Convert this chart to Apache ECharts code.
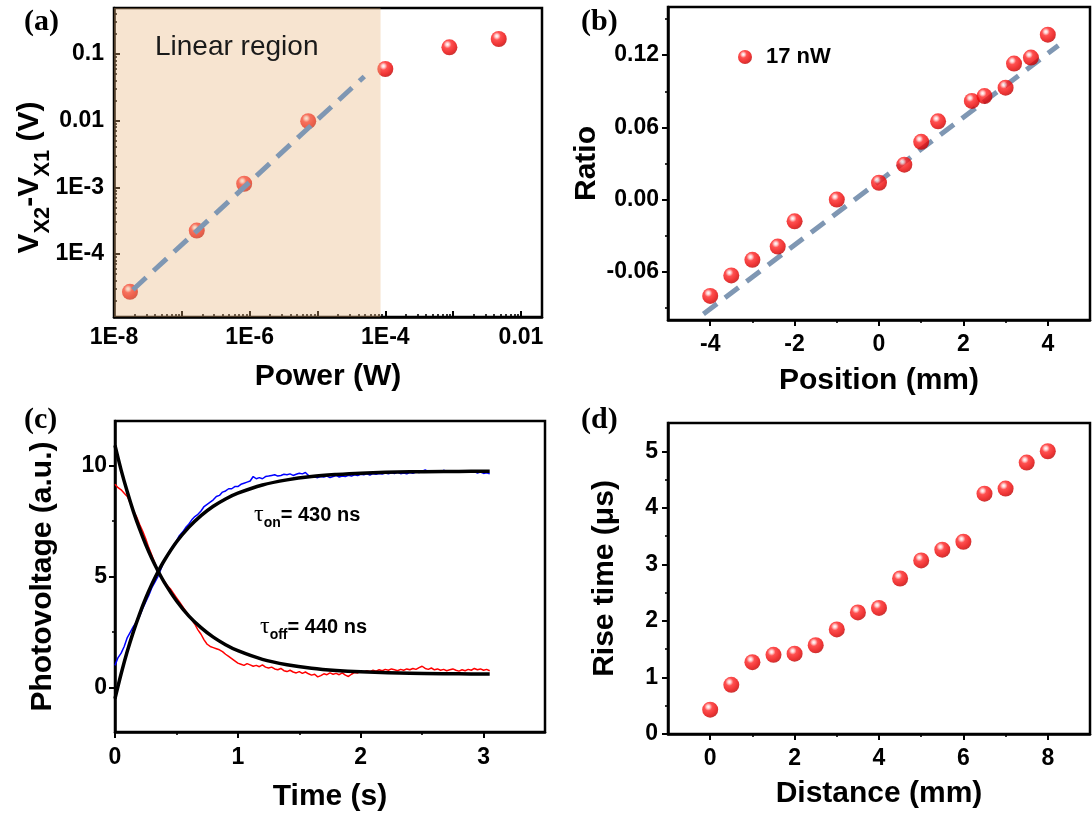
<!DOCTYPE html>
<html><head><meta charset="utf-8">
<script src="https://cdn.jsdelivr.net/npm/echarts@6/dist/echarts.min.js"></script>
<style>html,body{margin:0;padding:0;background:#fff}#c{width:1092px;height:814px}</style>
</head><body><div id="c"></div>
<script>
// ---------- Panel (a) ----------
const aPower   = [1.72e-8, 1.66e-7, 8.3e-7, 7.3e-6, 1.0e-4, 8.8e-4, 4.7e-3];
const aVoltage = [2.7e-5, 2.24e-4, 1.13e-3, 0.0098, 0.0596, 0.126, 0.168];
const aFitX = [1.9e-8, 4.9e-5];
const aFitY = [2.9e-5, 0.046];
const aLinearRegion = [1e-8, 8.5e-5];
const aXRange = [1e-8, 0.0204];
const aYRange = [1.13e-5, 0.49];
const aXMajorTicks = [1e-8, 1e-7, 1e-6, 1e-5, 1e-4, 1e-3, 1e-2];
const aXTickValues = [1e-8, 1e-6, 1e-4, 1e-2];
const aXTickLabels = ['1E-8', '1E-6', '1E-4', '0.01'];
const aYTickValues = [1e-4, 1e-3, 1e-2, 1e-1];
const aYTickLabels = ['1E-4', '1E-3', '0.01', '0.1'];

// ---------- Panel (b) ----------
const bPosition = [-4, -3.5, -3, -2.4, -2, -1, 0, 0.6, 1, 1.4, 2.2, 2.5, 3, 3.2, 3.6, 4];
const bRatio = [-0.080, -0.063, -0.050, -0.039, -0.018, 0.000, 0.014, 0.029, 0.048, 0.065, 0.082, 0.086, 0.093, 0.113, 0.118, 0.137];
const bFitX = [-4.16, 4.25];
const bFitY = [-0.095, 0.128];
const bXRange = [-5, 5];
const bYRange = [-0.10, 0.16];
const bXTickValues = [-4, -2, 0, 2, 4];
const bXMinorTicks = [-3, -1, 1, 3];
const bYTickValues = [-0.06, 0, 0.06, 0.12];
const bYTickLabels = ['-0.06', '0.00', '0.06', '0.12'];
const bYMinorTicks = [-0.09, -0.03, 0.03, 0.09, 0.15];

// ---------- Panel (c) ----------
const cTime = [0.000,0.025,0.050,0.075,0.100,0.125,0.150,0.175,0.200,0.225,0.250,0.275,0.300,0.325,0.350,0.375,0.400,0.425,0.450,0.475,
0.500,0.525,0.550,0.575,0.600,0.625,0.650,0.675,0.700,0.725,0.750,0.775,0.800,0.825,0.850,0.875,0.900,0.925,0.950,0.975,
1.000,1.025,1.050,1.075,1.100,1.125,1.150,1.175,1.200,1.225,1.250,1.275,1.300,1.325,1.350,1.375,1.400,1.425,1.450,1.475,
1.500,1.525,1.550,1.575,1.600,1.625,1.650,1.675,1.700,1.725,1.750,1.775,1.800,1.825,1.850,1.875,1.900,1.925,1.950,1.975,
2.000,2.025,2.050,2.075,2.100,2.125,2.150,2.175,2.200,2.225,2.250,2.275,2.300,2.325,2.350,2.375,2.400,2.425,2.450,2.475,
2.500,2.525,2.550,2.575,2.600,2.625,2.650,2.675,2.700,2.725,2.750,2.775,2.800,2.825,2.850,2.875,2.900,2.925,2.950,2.975,
3.000,3.025,3.050];
const cOn = [1.00,1.35,1.55,1.85,2.25,2.50,2.75,2.95,3.20,3.55,3.85,4.15,4.50,4.75,5.00,5.35,5.70,5.95,6.20,6.40,
6.60,6.85,7.00,7.20,7.35,7.55,7.70,7.80,7.95,8.15,8.25,8.35,8.45,8.60,8.65,8.80,8.85,8.95,8.95,9.05,
9.05,9.15,9.20,9.25,9.30,9.50,9.40,9.45,9.40,9.50,9.52,9.55,9.58,9.52,9.55,9.60,9.58,9.62,9.55,9.60,
9.65,9.62,9.68,9.55,9.50,9.48,9.45,9.50,9.48,9.52,9.45,9.50,9.55,9.48,9.52,9.50,9.56,9.52,9.58,9.54,
9.60,9.58,9.62,9.57,9.63,9.60,9.64,9.61,9.66,9.62,9.67,9.64,9.69,9.63,9.66,9.62,9.68,9.65,9.70,9.68,
9.74,9.80,9.72,9.76,9.70,9.75,9.72,9.78,9.73,9.76,9.70,9.74,9.71,9.75,9.69,9.73,9.70,9.72,9.66,9.70,
9.64,9.67,9.62];
const cOff = [9.15,9.00,8.90,8.75,8.60,8.30,7.95,7.70,7.35,7.05,6.70,6.30,5.95,5.60,5.25,5.00,4.80,4.60,4.45,4.25,
4.05,3.85,3.65,3.45,3.25,3.05,2.85,2.60,2.40,2.15,1.95,1.85,1.80,1.75,1.70,1.62,1.50,1.40,1.30,1.20,
1.10,1.05,1.00,1.08,1.02,0.96,1.00,0.94,1.02,0.92,0.88,0.92,0.84,0.80,0.86,0.76,0.72,0.78,0.70,0.66,
0.72,0.64,0.70,0.62,0.56,0.60,0.48,0.54,0.62,0.58,0.66,0.60,0.64,0.58,0.66,0.56,0.50,0.60,0.68,0.66,
0.72,0.70,0.76,0.72,0.78,0.74,0.80,0.76,0.82,0.78,0.84,0.80,0.76,0.82,0.78,0.84,0.80,0.86,0.82,0.90,
0.96,0.86,0.82,0.88,0.80,0.84,0.78,0.82,0.76,0.80,0.84,0.78,0.74,0.80,0.76,0.82,0.78,0.86,0.80,0.84,
0.78,0.82,0.76];
const cFitTime = [0, 0.05, 0.1, 0.15, 0.2, 0.25, 0.3, 0.35, 0.4, 0.5, 0.6, 0.7, 0.8, 0.9, 1.0, 1.2, 1.4, 1.6, 1.8, 2.0, 2.4, 2.8, 3.05];
const cFitOn  = [-0.5, 0.62, 1.63, 2.52, 3.31, 4.02, 4.65, 5.21, 5.71, 6.55, 7.21, 7.74, 8.16, 8.49, 8.75, 9.12, 9.35, 9.50, 9.59, 9.65, 9.71, 9.73, 9.74];
const cFitOff = [10.9, 9.79, 8.81, 7.92, 7.14, 6.44, 5.81, 5.25, 4.75, 3.91, 3.23, 2.70, 2.27, 1.93, 1.66, 1.27, 1.03, 0.87, 0.77, 0.71, 0.64, 0.62, 0.61];
const cXRange = [0, 3.5];
const cYRange = [-2, 12];
const cXTickValues = [0, 1, 2, 3];
const cXMinorTicks = [0.5, 1.5, 2.5];
const cYTickValues = [0, 5, 10];
const cYMinorTicks = [2.5, 7.5];

// ---------- Panel (d) ----------
const dDistance = [0, 0.5, 1, 1.5, 2, 2.5, 3, 3.5, 4, 4.5, 5, 5.5, 6, 6.5, 7, 7.5, 8];
const dRise = [0.43, 0.87, 1.27, 1.40, 1.42, 1.57, 1.85, 2.15, 2.23, 2.75, 3.07, 3.26, 3.40, 4.25, 4.34, 4.80, 5.00];
const dXRange = [-1, 9];
const dYRange = [0, 5.5];
const dXTickValues = [0, 2, 4, 6, 8];
const dXMinorTicks = [1, 3, 5, 7];
const dYTickValues = [0, 1, 2, 3, 4, 5];
const dYMinorTicks = [0.5, 1.5, 2.5, 3.5, 4.5];

// ---------- styling helpers ----------
const FONT = 'Liberation Sans';
const SERIF = 'Liberation Serif';
const titleStyle = {fontFamily: FONT, fontWeight: 'bold', fontSize: 30, color: '#000'};
const tickFont = {fontFamily: FONT, fontWeight: 'bold', fontSize: 23, color: '#000'};
const sphere = {type: 'radial', x: 0.38, y: 0.32, r: 0.72, colorStops: [
  {offset: 0, color: '#ffffff'}, {offset: 0.14, color: '#ffc6c6'}, {offset: 0.34, color: '#ff2424'},
  {offset: 0.75, color: '#e80000'}, {offset: 1, color: '#b50000'}]};

function logMinor(lo, hi) {
  const out = [];
  for (let e = Math.floor(Math.log10(lo)); e <= Math.ceil(Math.log10(hi)); e++) {
    for (let k = 2; k <= 9; k++) { const v = k * Math.pow(10, e); if (v > lo && v < hi) out.push(v); }
  }
  return out;
}
function lookupLabel(values, labels, isLog) {
  return function (v) {
    for (let i = 0; i < values.length; i++) {
      const d = isLog ? Math.abs(Math.log10(values[i]) - Math.log10(v)) : Math.abs(values[i] - v);
      if (d < 1e-6) return labels[i];
    }
    return '';
  };
}
function mainAxis(o) {
  return {
    gridIndex: o.grid, type: o.type || 'value', min: o.range[0], max: o.range[1],
    name: o.name, nameLocation: 'middle', nameGap: o.nameGap, nameMoveOverlap: false,
    nameTextStyle: o.nameTextStyle || titleStyle,
    axisLine: {show: true, onZero: false, lineStyle: {color: '#000', width: 2.5}},
    axisTick: {show: true, inside: !!o.inside, length: 6, lineStyle: {color: '#000', width: 2}, customValues: o.ticks},
    axisLabel: Object.assign({show: true, margin: o.margin, customValues: o.labels, formatter: o.formatter}, tickFont),
    splitLine: {show: false}, minorTick: {show: false}, minorSplitLine: {show: false}
  };
}
function minorAxis(o) {
  return {
    gridIndex: o.grid, type: o.type || 'value', min: o.range[0], max: o.range[1], position: o.position,
    axisLine: {show: false, onZero: false},
    axisTick: {show: true, inside: !!o.inside, length: 3, lineStyle: {color: '#000', width: 1.6}, customValues: o.ticks},
    axisLabel: {show: false}, splitLine: {show: false}
  };
}
function gridBox(left, top, width, height) {
  return {left, top, width, height, show: true, borderColor: '#000', borderWidth: 2.5,
          backgroundColor: 'transparent', containLabel: false, outerBoundsMode: 'none'};
}
function pairs(xs, ys) { return xs.map((x, i) => [x, ys[i]]); }

const tauRich = {
  t: {fontFamily: SERIF, fontSize: 24, fill: '#000', color: '#000', lineHeight: 30, verticalAlign: 'middle'},
  s: {fontFamily: FONT, fontWeight: 'bold', fontSize: 14, fill: '#000', color: '#000', lineHeight: 16, verticalAlign: 'bottom'},
  b: {fontFamily: FONT, fontWeight: 'bold', fontSize: 20, fill: '#000', color: '#000', lineHeight: 30, verticalAlign: 'middle'}
};
const letterFont = 'bold 30px "Liberation Serif"';

const option = {
  backgroundColor: '#ffffff',
  animation: false,
  grid: [
    gridBox(114, 8, 428, 309),
    gridBox(668, 7, 422, 313),
    gridBox(115, 421, 430, 311),
    gridBox(668, 423, 422, 311)
  ],
  xAxis: [
    mainAxis({grid: 0, type: 'log', range: aXRange, name: 'Power (W)', nameGap: 45, inside: true, margin: 9,
              ticks: aXMajorTicks, labels: aXTickValues, formatter: lookupLabel(aXTickValues, aXTickLabels, true)}),
    minorAxis({grid: 0, type: 'log', range: aXRange, position: 'bottom', inside: true, ticks: logMinor(aXRange[0], aXRange[1])}),
    mainAxis({grid: 1, range: bXRange, name: 'Position (mm)', nameGap: 46, margin: 13, ticks: bXTickValues, labels: bXTickValues}),
    minorAxis({grid: 1, range: bXRange, position: 'bottom', ticks: bXMinorTicks}),
    mainAxis({grid: 2, range: cXRange, name: 'Time (s)', nameGap: 50, margin: 14, ticks: cXTickValues, labels: cXTickValues}),
    minorAxis({grid: 2, range: cXRange, position: 'bottom', ticks: cXMinorTicks}),
    mainAxis({grid: 3, range: dXRange, name: 'Distance (mm)', nameGap: 45, margin: 13, ticks: dXTickValues, labels: dXTickValues}),
    minorAxis({grid: 3, range: dXRange, position: 'bottom', ticks: dXMinorTicks})
  ],
  yAxis: [
    mainAxis({grid: 0, type: 'log', range: aYRange, name: '{m|V}{s|X2}{m|-V}{s|X1}{m| (V)}', nameGap: 60, inside: true, margin: 10,
              ticks: aYTickValues, labels: aYTickValues, formatter: lookupLabel(aYTickValues, aYTickLabels, true),
              nameTextStyle: Object.assign({}, titleStyle, {padding: [0, 30, 0, 0], rich: {
                m: {fontFamily: FONT, fontWeight: 'bold', fontSize: 30, color: '#000', lineHeight: 48, verticalAlign: 'middle'},
                s: {fontFamily: FONT, fontWeight: 'bold', fontSize: 22, color: '#000', lineHeight: 22, verticalAlign: 'bottom'}
              }})}),
    minorAxis({grid: 0, type: 'log', range: aYRange, position: 'left', inside: true, ticks: logMinor(aYRange[0], aYRange[1])}),
    mainAxis({grid: 1, range: bYRange, name: 'Ratio', nameGap: 66, margin: 9, ticks: bYTickValues, labels: bYTickValues,
              formatter: lookupLabel(bYTickValues, bYTickLabels, false)}),
    minorAxis({grid: 1, range: bYRange, position: 'left', ticks: bYMinorTicks}),
    mainAxis({grid: 2, range: cYRange, name: 'Photovoltage (a.u.)', nameGap: 57, margin: 8, ticks: cYTickValues, labels: cYTickValues}),
    minorAxis({grid: 2, range: cYRange, position: 'left', ticks: cYMinorTicks}),
    mainAxis({grid: 3, range: dYRange, name: 'Rise time (\u03bcs)', nameGap: 48, margin: 10, ticks: dYTickValues, labels: dYTickValues}),
    minorAxis({grid: 3, range: dYRange, position: 'left', ticks: dYMinorTicks})
  ],
  legend: {
    show: true, data: ['17 nW'], left: 733, top: 41, itemWidth: 32, itemHeight: 14, selectedMode: false,
    textStyle: {fontFamily: FONT, fontWeight: 'bold', fontSize: 22, color: '#000'}
  },
  series: [
    // (a)
    {type: 'scatter', xAxisIndex: 0, yAxisIndex: 0, data: pairs(aPower, aVoltage), symbolSize: 16,
     itemStyle: {color: sphere}, z: 2, silent: true,
     markArea: {silent: true, z: 10, itemStyle: {color: 'rgba(232,178,120,0.35)', borderWidth: 0},
       data: [[{xAxis: aLinearRegion[0], yAxis: aYRange[0]}, {xAxis: aLinearRegion[1], yAxis: aYRange[1]}]]}},
    {type: 'line', xAxisIndex: 0, yAxisIndex: 0, data: pairs(aFitX, aFitY), symbol: 'none', z: 12, silent: true,
     lineStyle: {color: '#7f97b3', width: 5, type: [18, 10], cap: 'butt'}},
    // (b)
    {type: 'line', xAxisIndex: 2, yAxisIndex: 2, data: pairs(bFitX, bFitY), symbol: 'none', z: 2, silent: true,
     lineStyle: {color: '#7f97b3', width: 5, type: [17, 10], cap: 'butt'}},
    {type: 'scatter', name: '17 nW', xAxisIndex: 2, yAxisIndex: 2, data: pairs(bPosition, bRatio), symbolSize: 16,
     itemStyle: {color: sphere}, z: 3, silent: true},
    // (c)
    {type: 'line', xAxisIndex: 4, yAxisIndex: 4, data: pairs(cTime, cOn), symbol: 'none', z: 2, silent: true,
     lineStyle: {color: '#0000ff', width: 1.5}},
    {type: 'line', xAxisIndex: 4, yAxisIndex: 4, data: pairs(cTime, cOff), symbol: 'none', z: 2, silent: true,
     lineStyle: {color: '#ff0000', width: 1.5}},
    {type: 'line', xAxisIndex: 4, yAxisIndex: 4, data: pairs(cFitTime, cFitOn), symbol: 'none', smooth: 0.35, z: 3, silent: true,
     lineStyle: {color: '#000', width: 3.5}},
    {type: 'line', xAxisIndex: 4, yAxisIndex: 4, data: pairs(cFitTime, cFitOff), symbol: 'none', smooth: 0.35, z: 3, silent: true,
     lineStyle: {color: '#000', width: 3.5}},
    // (d)
    {type: 'scatter', xAxisIndex: 6, yAxisIndex: 6, data: pairs(dDistance, dRise), symbolSize: 16,
     itemStyle: {color: sphere}, z: 2, silent: true}
  ],
  graphic: [
    {type: 'text', left: 24, top: 7, z: 100, style: {text: '(a)', font: letterFont, fill: '#000'}},
    {type: 'text', left: 581, top: 7, z: 100, style: {text: '(b)', font: letterFont, fill: '#000'}},
    {type: 'text', left: 24, top: 405, z: 100, style: {text: '(c)', font: letterFont, fill: '#000'}},
    {type: 'text', left: 581, top: 405, z: 100, style: {text: '(d)', font: letterFont, fill: '#000'}},
    {type: 'text', left: 155, top: 33, z: 100, style: {text: 'Linear region', font: '28px "Liberation Sans"', fill: '#1a1a1a'}},
    {type: 'text', left: 254, top: 503, z: 100, style: {text: '{t|\u03c4}{s|on}{b|= 430 ns}', rich: tauRich}},
    {type: 'text', left: 260, top: 615, z: 100, style: {text: '{t|\u03c4}{s|off}{b|= 440 ns}', rich: tauRich}}
  ]
};
const chart = echarts.init(document.getElementById('c'), null, {renderer: 'canvas', width: 1092, height: 814});
chart.setOption(option);
</script>
</body></html>
